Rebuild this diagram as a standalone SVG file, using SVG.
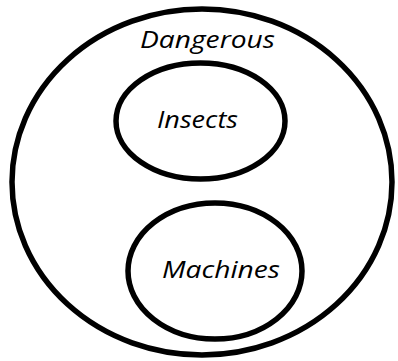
<svg xmlns="http://www.w3.org/2000/svg" width="398" height="361" viewBox="0 0 398 361">
<style>
.e{fill:none;stroke:#000;stroke-width:5.5}
.t{font-family:"Open Sans","Noto Sans",sans-serif;font-style:italic;font-size:23px;fill:#000}
</style>
<rect width="398" height="361" fill="#fff"/>
<g id="dangerous">
<ellipse class="e" cx="202" cy="182" rx="190" ry="173"/>
<text class="t" x="140" y="48" textLength="135" lengthAdjust="spacingAndGlyphs">Dangerous</text>
</g>
<g id="insects">
<ellipse class="e" cx="200.5" cy="121" rx="84.5" ry="58"/>
<text class="t" x="157" y="128" textLength="81" lengthAdjust="spacingAndGlyphs">Insects</text>
</g>
<g id="machines">
<ellipse class="e" cx="215" cy="271" rx="87" ry="68"/>
<text class="t" x="162" y="278" textLength="118" lengthAdjust="spacingAndGlyphs">Machines</text>
</g>
<g id="connectors"/>
</svg>
